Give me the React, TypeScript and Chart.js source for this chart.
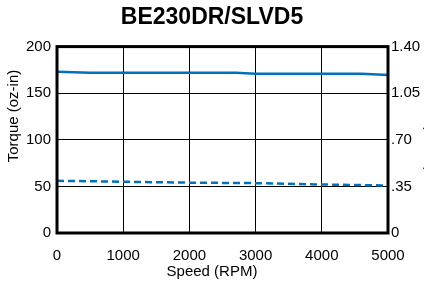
import React, { useEffect, useRef } from "react";
import { Chart, registerables } from "chart.js";

Chart.register(...registerables);

const titleText = "BE230DR/SLVD5";
const xTitle = "Speed (RPM)";
const yTitle = "Torque (oz-in)";
const y2Title = "Power (Watts)";

const contSpeed = [0, 500, 1000, 2000, 2700, 3000, 4000, 4600, 5000];
const contTorque = [173, 172, 172, 172, 172, 171, 171, 171, 169.5];

const peakSpeed = [0, 1000, 2000, 3000, 4000, 5000];
const peakTorque = [56, 55, 54, 53.5, 52, 51];

const rightTicks = ["0", ".35", ".70", "1.05", "1.40"];

const BLUE = "#0072BD";
const FONT = "'Liberation Sans', Arial, sans-serif";

export default function App() {
  const ref = useRef<HTMLCanvasElement>(null);

  useEffect(() => {
    document.body.style.margin = "0";
    const canvas = ref.current!;
    const extras = {
      id: "extras",
      afterDraw(chart: any) {
        const ctx = chart.ctx;
        const W = chart.width;
        const a = chart.chartArea;
        ctx.save();
        ctx.font = `15px ${FONT}`;
        ctx.fillStyle = "#000";
        ctx.textAlign = "center";
        ctx.textBaseline = "middle";
        // x axis title, centred on the figure
        ctx.fillText(xTitle, W / 2, 272);
        // left axis title
        ctx.save();
        ctx.translate(14, 116);
        ctx.rotate(-Math.PI / 2);
        ctx.fillText(yTitle, 0, 0);
        ctx.restore();
        // right axis title, mostly outside the figure
        ctx.save();
        ctx.translate(430, 125);
        ctx.rotate(Math.PI / 2);
        ctx.fillStyle = "#222";
        ctx.fillText(y2Title, 0, 0);
        ctx.restore();
        ctx.restore();
        ctx.save();
        ctx.strokeStyle = "#000";
        ctx.lineWidth = 3;
        ctx.strokeRect(a.left, a.top, a.right - a.left, a.bottom - a.top);
        ctx.restore();
      },
    };
    const chart = new Chart(canvas, {
      type: "scatter",
      data: {
        datasets: [
          {
            data: contSpeed.map((x, i) => ({ x, y: contTorque[i] })),
            showLine: true,
            borderColor: BLUE,
            borderWidth: 2.5,
            pointRadius: 0,
            yAxisID: "y",
          },
          {
            data: peakSpeed.map((x, i) => ({ x, y: peakTorque[i] })),
            showLine: true,
            borderColor: BLUE,
            borderWidth: 2.5,
            borderDash: [7, 4],
            pointRadius: 0,
            yAxisID: "y",
          },
        ],
      },
      options: {
        animation: false,
        responsive: false,
        devicePixelRatio: 1,
        layout: { padding: { left: 0, right: 0, top: 0, bottom: 0 } },
        plugins: {
          legend: { display: false },
          tooltip: { enabled: false },
          title: {
            display: true,
            text: titleText,
            color: "#000",
            font: { family: FONT, size: 23, weight: "bold" },
            padding: { top: 4, bottom: 15 },
          },
        },
        scales: {
          x: {
            type: "linear",
            min: 0,
            max: 5000,
            ticks: {
              stepSize: 1000,
              color: "#000",
              font: { family: FONT, size: 15 },
              padding: 14,
              maxRotation: 0,
              callback: (v: any) => String(v),
            },
            grid: { color: "#000", lineWidth: 1, drawTicks: false },
            border: { display: false },
            title: { display: false },
            afterFit(s: any) {
              s.height = 48;
            },
          },
          y: {
            type: "linear",
            position: "left",
            min: 0,
            max: 200,
            ticks: {
              stepSize: 50,
              color: "#000",
              font: { family: FONT, size: 15 },
              padding: 6,
            },
            grid: { color: "#000", lineWidth: 1, drawTicks: false },
            border: { display: false },
            title: { display: false },
            afterFit(s: any) {
              s.width = 57;
            },
          },
          y2: {
            type: "linear",
            position: "right",
            min: 0,
            max: 1.4,
            afterBuildTicks(s: any) {
              s.ticks = rightTicks.map((_, i) => ({ value: i * 0.35 }));
            },
            ticks: {
              color: "#000",
              font: { family: FONT, size: 15 },
              padding: 3,
              callback: (_v: any, i: number) => rightTicks[i],
            },
            grid: { display: false, drawTicks: false },
            border: { display: false },
            afterFit(s: any) {
              s.width = 36;
            },
          },
        },
      },
      plugins: [extras],
    });
    return () => chart.destroy();
  }, []);

  return (
    <div style={{ position: "absolute", left: 0, top: 0, width: 424, height: 281 }}>
      <canvas ref={ref} width={424} height={281} style={{ width: 424, height: 281 }} />
    </div>
  );
}
